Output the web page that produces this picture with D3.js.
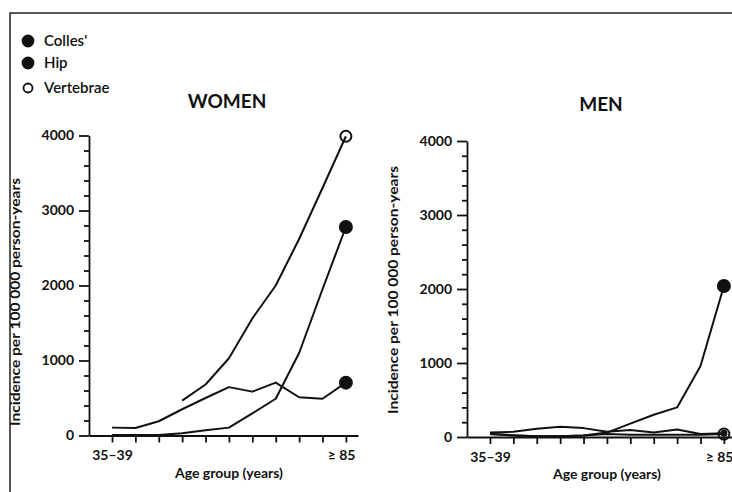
<!DOCTYPE html>
<html>
<head>
<meta charset="utf-8">
<script src="https://cdn.jsdelivr.net/npm/d3@7"></script>
<style>
  body { margin: 0; background: #fff; }
  text { font-family: Lato, "Open Sans", sans-serif; fill: #111; }
</style>
</head>
<body>
<div id="chart"></div>
<script>
// age groups along the x axis, only first and last are labelled
var ageGroups = ["35–39", "40–44", "45–49", "50–54", "55–59", "60–64", "65–69", "70–74", "75–79", "80–84", "≥ 85"];
var shownTicks = ["35–39", "≥ 85"];
var yTicks = [0, 1000, 2000, 3000, 4000];

// incidence per 100 000 person-years
var womenColles = [105, 100, 190, 350, 500, 645, 585, 705, 510, 490, 705];
var womenHip = [8, 8, 8, 30, 70, 105, 295, 490, 1100, 1950, 2780];
var womenVertebrae = [null, null, null, 465, 680, 1030, 1560, 2000, 2620, 3300, 3990];

var menColles = [60, 70, 110, 140, 120, 70, 95, 60, 100, 40, 50];
var menHip = [40, 20, 10, 10, 20, 60, 180, 300, 400, 960, 2040];
var menVertebrae = [40, 25, 10, 10, 20, 40, 30, 30, 30, 30, 40];

var legendNames = ["Colles'", "Hip", "Vertebrae"];
var legendFilled = [true, true, false];

var width = 732, height = 492;
var svg = d3.select("#chart").append("svg")
    .attr("width", width).attr("height", height);

// scanned frame edge (left and top)
svg.append("path").attr("d", "M10,492V13H732")
    .attr("fill", "none").attr("stroke", "#222").attr("stroke-width", 1.5);

// legend
var leg = svg.append("g").attr("transform", "translate(28,41)")
    .selectAll("g").data(legendNames).enter().append("g")
    .attr("transform", function(d, i) { return "translate(0," + [0, 22, 47][i] + ")"; });
leg.append("circle")
    .attr("r", function(d, i) { return legendFilled[i] ? 5.5 : 4.5; })
    .attr("fill", function(d, i) { return legendFilled[i] ? "#111" : "#fff"; })
    .attr("stroke", "#111").attr("stroke-width", 1.8);
leg.append("text").attr("x", 16).attr("y", 5)
    .style("font-size", "15px").style("font-weight", "600").text(function(d) { return d; });

function drawPanel(xRange, yRange, title, titleX, titleY, labelX, labelY, series) {
    var x = d3.scalePoint().domain(ageGroups).range(xRange).padding(0.75).align(0.655);
    var y = d3.scaleLinear().domain([0, 4000]).range(yRange);
    var g = svg.append("g");

    // minor y ticks
    g.append("g").attr("transform", "translate(" + xRange[0] + ",0)")
        .call(d3.axisLeft(y).tickValues(y.ticks(16).filter(function(v) { return v % 1000; }))
            .tickSize(5).tickFormat(""))
        .call(function(a) { a.select(".domain").remove(); });

    // major y axis
    g.append("g").attr("transform", "translate(" + xRange[0] + ",0)")
        .call(d3.axisLeft(y).tickValues(yTicks).tickSize(10).tickSizeOuter(0).tickPadding(5)
            .tickFormat(d3.format("d")))
        .call(function(a) {
            a.selectAll("text").style("font-size", "14px").style("font-weight", "bold")
                .style("font-family", "Lato, sans-serif").attr("fill", "#111");
        });

    // x axis
    g.append("g").attr("transform", "translate(0," + yRange[0] + ")")
        .call(d3.axisBottom(x).tickSize(7).tickSizeOuter(0).tickPadding(8)
            .tickFormat(function(d) { return shownTicks.indexOf(d) >= 0 ? d : ""; }))
        .call(function(a) {
            a.selectAll("text").style("font-size", "14px").style("font-weight", "bold")
                .style("font-family", "Lato, sans-serif").attr("fill", "#111");
            a.selectAll("text").filter(function(d) { return d === ageGroups[ageGroups.length - 1]; })
                .attr("text-anchor", "end").attr("dx", 9);
        });

    g.selectAll(".domain, .tick line").attr("stroke", "#111").attr("stroke-width", 1.8);

    // titles
    g.append("text").attr("x", titleX).attr("y", titleY).attr("text-anchor", "middle")
        .style("font-size", "19px").style("font-weight", "bold").text(title);
    g.append("text").attr("x", (x(ageGroups[0]) + x(ageGroups[10])) / 2).attr("y", yRange[0] + 42)
        .attr("text-anchor", "middle").style("font-size", "14px").style("font-weight", "bold")
        .text("Age group (years)");
    g.append("text").attr("transform", "translate(" + labelX + "," + labelY + ") rotate(-90)")
        .attr("text-anchor", "middle").style("font-size", "13.5px").style("font-weight", "bold")
        .attr("textLength", 248).attr("lengthAdjust", "spacingAndGlyphs")
        .text("Incidence per 100 000 person-years");

    var line = d3.line()
        .defined(function(d) { return d != null; })
        .x(function(d, i) { return x(ageGroups[i]); })
        .y(function(d) { return y(d); });

    series.forEach(function(s) {
        g.append("path").datum(s.values).attr("d", line)
            .attr("fill", "none").attr("stroke", "#111").attr("stroke-width", 2)
            .attr("stroke-linejoin", "round");
    });
    // end markers
    series.forEach(function(s) {
        var last = s.values.length - 1;
        g.append("circle")
            .attr("cx", x(ageGroups[last])).attr("cy", y(s.values[last]))
            .attr("r", s.filled ? (s.r || 6) : 5.5)
            .attr("fill", s.filled ? "#111" : "none")
            .attr("stroke", "#111").attr("stroke-width", 2);
    });
}

drawPanel([89, 358], [435.5, 135.5], "WOMEN", 227, 108, 20, 302, [
    { values: womenColles, filled: true },
    { values: womenHip, filled: true },
    { values: womenVertebrae, filled: false }
]);
drawPanel([467, 736], [437, 141], "MEN", 601, 111, 398, 290, [
    { values: menHip, filled: true },
    { values: menColles, filled: true, r: 2.5 },
    { values: menVertebrae, filled: false }
]);
</script>
</body>
</html>
